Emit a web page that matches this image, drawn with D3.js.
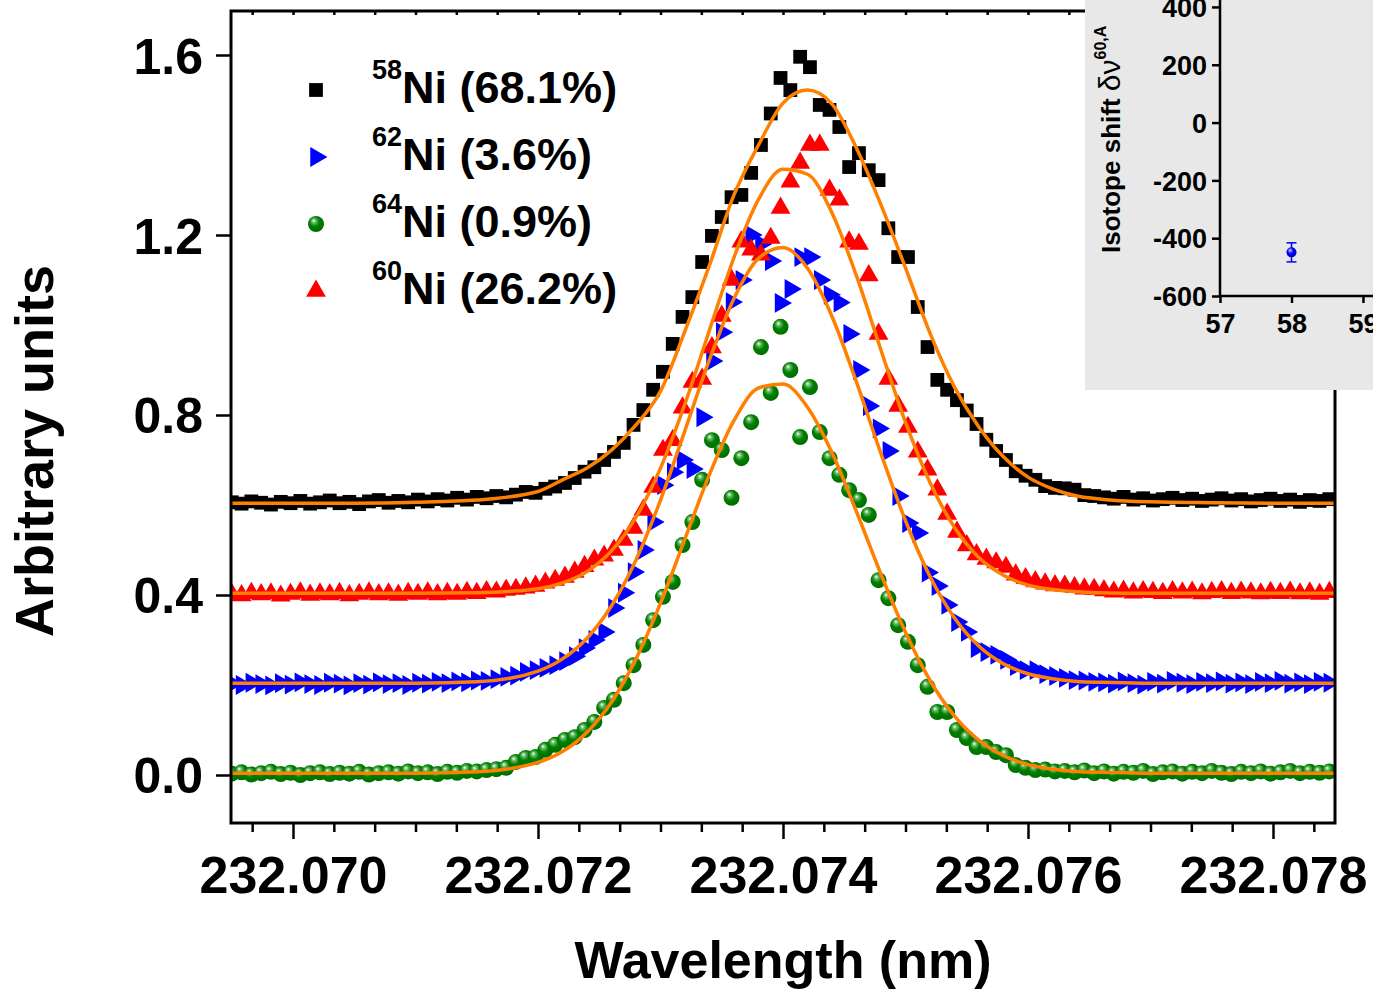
<!DOCTYPE html>
<html>
<head>
<meta charset="utf-8">
<script src="https://cdn.jsdelivr.net/npm/d3@7"></script>
<style>
  html, body { margin: 0; padding: 0; background: #fff; }
  svg { display: block; }
  text { font-family: "Liberation Sans", Arial, Helvetica, sans-serif; font-weight: bold; fill: #000; }
</style>
</head>
<body>
<svg id="chart" width="1373" height="992"></svg>
<script>
// ---- Measured spectra (sampling grid in nm) ----
const wavelength = [
  232.06950, 232.06958, 232.06966, 232.06974, 232.06982, 232.06990, 232.06998, 232.07006, 232.07014, 232.07022,
  232.07030, 232.07038, 232.07046, 232.07054, 232.07062, 232.07070, 232.07078, 232.07086, 232.07094, 232.07102,
  232.07110, 232.07118, 232.07126, 232.07134, 232.07142, 232.07150, 232.07158, 232.07166, 232.07174, 232.07182,
  232.07190, 232.07198, 232.07206, 232.07214, 232.07222, 232.07230, 232.07238, 232.07246, 232.07254, 232.07262,
  232.07270, 232.07278, 232.07286, 232.07294, 232.07302, 232.07310, 232.07318, 232.07326, 232.07334, 232.07342,
  232.07350, 232.07358, 232.07366, 232.07374, 232.07382, 232.07390, 232.07398, 232.07406, 232.07414, 232.07422,
  232.07430, 232.07438, 232.07446, 232.07454, 232.07462, 232.07470, 232.07478, 232.07486, 232.07494, 232.07502,
  232.07510, 232.07518, 232.07526, 232.07534, 232.07542, 232.07550, 232.07558, 232.07566, 232.07574, 232.07582,
  232.07590, 232.07598, 232.07606, 232.07614, 232.07622, 232.07630, 232.07638, 232.07646, 232.07654, 232.07662,
  232.07670, 232.07678, 232.07686, 232.07694, 232.07702, 232.07710, 232.07718, 232.07726, 232.07734, 232.07742,
  232.07750, 232.07758, 232.07766, 232.07774, 232.07782, 232.07790, 232.07798, 232.07806, 232.07814, 232.07822,
  232.07830, 232.07838, 232.07846
];

// 58Ni (offset +0.6)
const ni58 = [
  0.606, 0.603, 0.608, 0.605, 0.601, 0.607, 0.604, 0.609, 0.603, 0.606,
  0.610, 0.604, 0.607, 0.602, 0.608, 0.611, 0.605, 0.609, 0.606, 0.612,
  0.608, 0.613, 0.610, 0.616, 0.612, 0.618, 0.615, 0.620, 0.617, 0.623,
  0.629, 0.627, 0.636, 0.641, 0.649, 0.660, 0.674, 0.684, 0.700, 0.718,
  0.738, 0.778, 0.811, 0.856, 0.896, 0.958, 1.018, 1.062, 1.140, 1.198,
  1.240, 1.284, 1.289, 1.338, 1.400, 1.470, 1.549, 1.522, 1.596, 1.573,
  1.489, 1.478, 1.440, 1.351, 1.382, 1.344, 1.322, 1.215, 1.151, 1.151,
  1.040, 0.951, 0.878, 0.856, 0.833, 0.810, 0.780, 0.745, 0.720, 0.700,
  0.675, 0.665, 0.656, 0.642, 0.638, 0.637, 0.634, 0.622, 0.620, 0.617,
  0.614, 0.618, 0.612, 0.615, 0.610, 0.613, 0.616, 0.611, 0.614, 0.609,
  0.612, 0.615, 0.610, 0.613, 0.608, 0.611, 0.614, 0.609, 0.612, 0.607,
  0.611, 0.609, 0.613
];

// 62Ni (offset +0.2)
const ni62 = [
  0.203, 0.200, 0.205, 0.202, 0.199, 0.204, 0.201, 0.206, 0.202, 0.200,
  0.205, 0.203, 0.199, 0.204, 0.201, 0.206, 0.202, 0.204, 0.200, 0.205,
  0.203, 0.207, 0.204, 0.208, 0.206, 0.210, 0.209, 0.213, 0.218, 0.221,
  0.229, 0.233, 0.238, 0.244, 0.253, 0.264, 0.282, 0.300, 0.318, 0.371,
  0.405, 0.451, 0.500, 0.562, 0.644, 0.673, 0.700, 0.680, 0.795, 0.920,
  0.984, 1.051, 1.100, 1.200, 1.180, 1.142, 1.049, 1.080, 1.151, 1.151,
  1.100, 1.067, 1.050, 0.980, 0.900, 0.820, 0.770, 0.720, 0.620, 0.560,
  0.538, 0.450, 0.420, 0.378, 0.340, 0.318, 0.282, 0.273, 0.267, 0.256,
  0.242, 0.233, 0.233, 0.224, 0.220, 0.216, 0.211, 0.210, 0.207, 0.206,
  0.203, 0.208, 0.204, 0.201, 0.207, 0.203, 0.209, 0.205, 0.202, 0.207,
  0.204, 0.208, 0.203, 0.206, 0.202, 0.207, 0.204, 0.209, 0.203, 0.206,
  0.202, 0.207, 0.205
];

// 64Ni (no offset)
const ni64 = [
  0.003, 0.006, 0.001, 0.004, 0.007, 0.002, 0.005, 0.000, 0.004, 0.006,
  0.002, 0.005, 0.003, 0.007, 0.001, 0.004, 0.006, 0.003, 0.008, 0.004,
  0.006, 0.002, 0.007, 0.005, 0.009, 0.008, 0.011, 0.013, 0.016, 0.029,
  0.038, 0.040, 0.056, 0.067, 0.078, 0.084, 0.100, 0.118, 0.149, 0.167,
  0.204, 0.244, 0.289, 0.344, 0.396, 0.429, 0.511, 0.562, 0.656, 0.744,
  0.722, 0.616, 0.704, 0.784, 0.951, 0.849, 0.996, 0.900, 0.751, 0.862,
  0.762, 0.704, 0.667, 0.633, 0.611, 0.578, 0.433, 0.393, 0.333, 0.296,
  0.244, 0.196, 0.140, 0.140, 0.100, 0.082, 0.062, 0.062, 0.051, 0.044,
  0.022, 0.016, 0.011, 0.012, 0.008, 0.009, 0.006, 0.010, 0.004, 0.008,
  0.003, 0.007, 0.005, 0.009, 0.002, 0.006, 0.008, 0.003, 0.007, 0.004,
  0.009, 0.005, 0.002, 0.007, 0.004, 0.008, 0.003, 0.006, 0.009, 0.004,
  0.007, 0.005, 0.008
];

// 60Ni (offset +0.4)
const ni60 = [
  0.402, 0.399, 0.404, 0.401, 0.403, 0.398, 0.402, 0.405, 0.400, 0.403,
  0.401, 0.404, 0.399, 0.402, 0.405, 0.401, 0.403, 0.400, 0.404, 0.402,
  0.405, 0.401, 0.404, 0.402, 0.406, 0.404, 0.408, 0.407, 0.411, 0.413,
  0.416, 0.420, 0.427, 0.433, 0.440, 0.451, 0.464, 0.478, 0.487, 0.500,
  0.522, 0.549, 0.589, 0.640, 0.722, 0.744, 0.816, 0.873, 0.880, 0.950,
  1.020, 1.100, 1.185, 1.167, 1.156, 1.193, 1.260, 1.318, 1.360, 1.400,
  1.400, 1.300, 1.278, 1.185, 1.180, 1.110, 0.980, 0.880, 0.820, 0.773,
  0.718, 0.678, 0.634, 0.580, 0.540, 0.510, 0.490, 0.480, 0.472, 0.462,
  0.445, 0.437, 0.430, 0.425, 0.421, 0.420, 0.417, 0.414, 0.413, 0.410,
  0.407, 0.409, 0.405, 0.408, 0.406, 0.404, 0.408, 0.405, 0.407, 0.403,
  0.406, 0.408, 0.404, 0.407, 0.405, 0.403, 0.406, 0.404, 0.407, 0.403,
  0.405, 0.402, 0.406
];

// ---- Fitted line profiles ----
const fitWavelength = [
  232.0695, 232.0700, 232.0705, 232.0710, 232.0715, 232.0720, 232.0722, 232.0724, 232.0726, 232.0728,
  232.0730, 232.0732, 232.0734, 232.0736, 232.0738, 232.0740, 232.0742, 232.0744, 232.0746, 232.0748,
  232.0750, 232.0752, 232.0754, 232.0756, 232.0758, 232.0760, 232.0762, 232.0764, 232.0766, 232.0768,
  232.0770, 232.0775, 232.0780, 232.0785
];
const fit58 = [
  0.604, 0.604, 0.604, 0.606, 0.611, 0.630, 0.656, 0.682, 0.722, 0.778,
  0.853, 0.987, 1.133, 1.289, 1.400, 1.493, 1.522, 1.491, 1.393, 1.267,
  1.127, 0.982, 0.862, 0.773, 0.707, 0.662, 0.636, 0.620, 0.613, 0.609,
  0.607, 0.605, 0.604, 0.604
];
const fit62 = [
  0.204, 0.204, 0.204, 0.204, 0.207, 0.231, 0.258, 0.304, 0.376, 0.478,
  0.611, 0.766, 0.923, 1.059, 1.148, 1.172, 1.126, 1.019, 0.873, 0.714,
  0.565, 0.441, 0.349, 0.286, 0.247, 0.225, 0.214, 0.208, 0.206, 0.205,
  0.204, 0.204, 0.204, 0.204
];
const fit64 = [
  0.004, 0.004, 0.004, 0.004, 0.007, 0.028, 0.052, 0.095, 0.162, 0.258,
  0.382, 0.525, 0.668, 0.788, 0.860, 0.869, 0.817, 0.716, 0.585, 0.446,
  0.317, 0.210, 0.131, 0.077, 0.043, 0.023, 0.013, 0.008, 0.006, 0.005,
  0.004, 0.004, 0.004, 0.004
];
const fit60 = [
  0.404, 0.404, 0.404, 0.404, 0.405, 0.414, 0.427, 0.452, 0.498, 0.573,
  0.682, 0.825, 0.989, 1.150, 1.279, 1.346, 1.335, 1.249, 1.109, 0.944,
  0.784, 0.650, 0.550, 0.483, 0.444, 0.422, 0.412, 0.407, 0.405, 0.404,
  0.404, 0.404, 0.404, 0.404
];

// ---- Axes and legend text ----
const xTicks = [232.070, 232.072, 232.074, 232.076, 232.078];
const yTicks = [0.0, 0.4, 0.8, 1.2, 1.6];
const legendMass = ["58", "62", "64", "60"];
const legendNames = ["Ni (68.1%)", "Ni (3.6%)", "Ni (0.9%)", "Ni (26.2%)"];

// ---- Inset: isotope shift ----
const insetMass = [58];
const insetShift = [-449];
const insetError = [33];
const insetXTicks = [57, 58, 59];
const insetYTicks = [-600, -400, -200, 0, 200, 400];

// ================= drawing =================
const svg = d3.select("#chart");
const defs = svg.append("defs");

const plot = { left: 231, right: 1335, top: 11, bottom: 823 };
const x = d3.scaleLinear().domain([232.0694939, 232.0785061]).range([plot.left, plot.right]);
const y = d3.scaleLinear().domain([-0.106667, 1.697778]).range([plot.bottom, plot.top]);

function sphereGradient(id, light, base, dark) {
  const g = defs.append("radialGradient").attr("id", id)
    .attr("cx", "45%").attr("cy", "42%").attr("r", "62%")
    .attr("fx", "35%").attr("fy", "28%");
  g.append("stop").attr("offset", "0%").attr("stop-color", "#ffffff");
  g.append("stop").attr("offset", "20%").attr("stop-color", light);
  g.append("stop").attr("offset", "50%").attr("stop-color", base);
  g.append("stop").attr("offset", "100%").attr("stop-color", dark);
}
sphereGradient("greenBall", "#6abb6a", "#008000", "#006a00");
sphereGradient("blueBall", "#7070ff", "#0000ff", "#0000b0");

defs.append("clipPath").attr("id", "plotClip")
  .append("rect").attr("x", plot.left).attr("y", plot.top)
  .attr("width", plot.right - plot.left).attr("height", plot.bottom - plot.top);

const squareSym = d3.symbol(d3.symbolSquare, 190)();
const triSym = d3.symbol(d3.symbolTriangle, 170)();

function addMarker(g, shape, fill) {
  if (shape === "ball") {
    g.append("circle").attr("r", 8).attr("fill", fill);
  } else if (shape === "square") {
    g.append("path").attr("d", squareSym).attr("fill", fill);
  } else if (shape === "triUp") {
    g.append("path").attr("d", triSym).attr("fill", fill);
  } else {
    g.append("path").attr("d", triSym).attr("fill", fill).attr("transform", "rotate(90)");
  }
}

const series = [
  { values: ni58, shape: "square", fill: "#000000" },
  { values: ni62, shape: "triRight", fill: "#0000ff" },
  { values: ni64, shape: "ball", fill: "url(#greenBall)" },
  { values: ni60, shape: "triUp", fill: "#ff0000" }
];

const dataLayer = svg.append("g").attr("clip-path", "url(#plotClip)");
series.forEach(s => {
  const pts = wavelength.map((w, i) => [w, s.values[i]]);
  dataLayer.append("g").selectAll("g").data(pts).join("g")
    .attr("transform", d => `translate(${x(d[0])},${y(d[1])})`)
    .each(function () { addMarker(d3.select(this), s.shape, s.fill); });
});

const fitLine = d3.line()
  .x((d, i) => x(fitWavelength[i]))
  .y(d => y(d))
  .curve(d3.curveMonotoneX);
[fit58, fit62, fit64, fit60].forEach(f => {
  dataLayer.append("path").attr("d", fitLine(f))
    .attr("fill", "none").attr("stroke", "#ff8000").attr("stroke-width", 3.5)
    .attr("stroke-linejoin", "round");
});

// frame
svg.append("rect").attr("x", plot.left).attr("y", plot.top)
  .attr("width", plot.right - plot.left).attr("height", plot.bottom - plot.top)
  .attr("fill", "none").attr("stroke", "#000").attr("stroke-width", 3);

// x axis ticks (minor every 1/3000 nm, major every 0.002 nm)
const xAll = d3.range(-1, 26).map(k => +(232.070 + k * 0.002 / 6).toFixed(7));
const xMinor = xAll.filter(v => !xTicks.some(t => Math.abs(t - v) < 1e-7));

function styleAxis(g) {
  g.select(".domain").remove();
  g.attr("font-family", null).attr("font-size", null);
  g.selectAll(".tick line").attr("stroke", "#000").attr("stroke-width", 2.5);
}
const plainNumber = d => String(d);

svg.append("g").attr("transform", `translate(0,${plot.bottom})`)
  .call(d3.axisBottom(x).tickValues(xMinor).tickSize(9).tickSizeOuter(0).tickFormat(() => ""))
  .call(styleAxis);
svg.append("g").attr("transform", `translate(0,${plot.bottom})`)
  .call(d3.axisBottom(x).tickValues(xTicks).tickSize(16).tickSizeOuter(0).tickFormat(d3.format(".3f")))
  .call(styleAxis)
  .call(g => g.selectAll("text").attr("y", 70).attr("dy", null).attr("font-size", 52));
svg.append("g").attr("transform", `translate(0,${plot.top})`)
  .call(d3.axisTop(x).tickValues(xAll).tickSize(-4).tickSizeOuter(0).tickFormat(() => ""))
  .call(styleAxis);

svg.append("g").attr("transform", `translate(${plot.left},0)`)
  .call(d3.axisLeft(y).tickValues(yTicks).tickSize(15).tickSizeOuter(0).tickFormat(d3.format(".1f")))
  .call(styleAxis)
  .call(g => g.selectAll("text").attr("x", -28).attr("dy", "0.36em").attr("font-size", 50));

// axis titles
svg.append("text").attr("x", (plot.left + plot.right) / 2).attr("y", 978)
  .attr("text-anchor", "middle").attr("font-size", 52).text("Wavelength (nm)");
svg.append("text").attr("transform", `translate(53,${451}) rotate(-90)`)
  .attr("text-anchor", "middle").attr("font-size", 54).text("Arbitrary units");

// legend
const legendShapes = ["square", "triRight", "ball", "triUp"];
const legendFills = ["#000000", "#0000ff", "url(#greenBall)", "#ff0000"];
legendMass.forEach((m, k) => {
  const base = 103 + 67 * k;
  const mk = svg.append("g").attr("transform", `translate(316,${base - 13})`);
  addMarker(mk, legendShapes[k], legendFills[k]);
  const t = svg.append("text").attr("x", 372).attr("y", base);
  t.append("tspan").attr("font-size", 27).attr("dy", -24).text(m);
  t.append("tspan").attr("font-size", 45).attr("dy", 24).text(legendNames[k]);
});

// ================= inset =================
svg.append("rect").attr("x", 1085).attr("y", 0).attr("width", 288).attr("height", 390).attr("fill", "#e8e8e8");
const ix = d3.scaleLinear().domain([57, 59.15]).range([1220, 1373.7]);
const iy = d3.scaleLinear().domain([-600, 424]).range([296, 0]);

svg.append("line").attr("x1", 1220).attr("x2", 1220).attr("y1", 296).attr("y2", 0)
  .attr("stroke", "#000").attr("stroke-width", 2.5);
svg.append("line").attr("x1", 1220).attr("x2", 1373).attr("y1", 296).attr("y2", 296)
  .attr("stroke", "#000").attr("stroke-width", 2.5);

svg.append("g").attr("transform", "translate(0,296)")
  .call(d3.axisBottom(ix).tickValues(insetXTicks).tickSize(7).tickSizeOuter(0).tickFormat(plainNumber))
  .call(styleAxis)
  .call(g => g.selectAll("text").attr("y", 37).attr("dy", null).attr("font-size", 27));
svg.append("g").attr("transform", "translate(1220,0)")
  .call(d3.axisLeft(iy).tickValues(insetYTicks).tickSize(8).tickSizeOuter(0).tickFormat(plainNumber))
  .call(styleAxis)
  .call(g => g.selectAll("text").attr("x", -13).attr("dy", "0.36em").attr("font-size", 27));

const ip = svg.append("g");
insetMass.forEach((m, i) => {
  const cx = ix(m), cy = iy(insetShift[i]);
  const y1 = iy(insetShift[i] - insetError[i]), y2 = iy(insetShift[i] + insetError[i]);
  ip.append("line").attr("x1", cx).attr("x2", cx).attr("y1", y1).attr("y2", y2).attr("stroke", "#0000ff").attr("stroke-width", 1.5);
  ip.append("line").attr("x1", cx - 5).attr("x2", cx + 5).attr("y1", y1).attr("y2", y1).attr("stroke", "#0000ff").attr("stroke-width", 1.5);
  ip.append("line").attr("x1", cx - 5).attr("x2", cx + 5).attr("y1", y2).attr("y2", y2).attr("stroke", "#0000ff").attr("stroke-width", 1.5);
  ip.append("circle").attr("cx", cx).attr("cy", cy).attr("r", 5).attr("fill", "url(#blueBall)");
});

const il = svg.append("text").attr("transform", "translate(1120,253) rotate(-90)").attr("font-size", 26);
il.append("tspan").text("Isotope shift ");
il.append("tspan").attr("font-weight", "normal").attr("font-size", 30).text("δν");
il.append("tspan").attr("font-size", 16).attr("dy", -14).text("60,A");
</script>
</body>
</html>
